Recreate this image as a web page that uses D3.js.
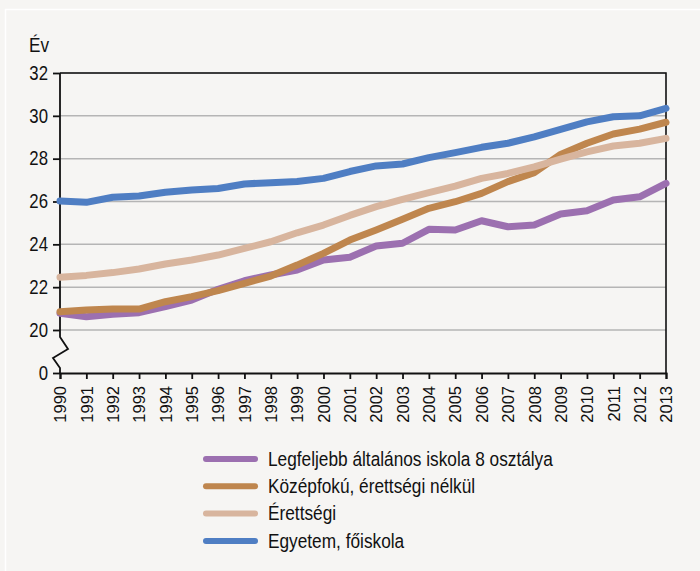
<!DOCTYPE html>
<html>
<head>
<meta charset="utf-8">
<script src="https://cdn.jsdelivr.net/npm/d3@7"></script>
<style>
  html, body { margin: 0; padding: 0; background: #f6f5f3; }
  svg { display: block; font-family: "Liberation Sans", Arial, sans-serif; }
</style>
</head>
<body>
<svg id="chart" width="700" height="571"></svg>
<script>
const years = d3.range(1990, 2014);
const yTickValues = [0, 20, 22, 24, 26, 28, 30, 32];
const seriesNames = [
  "Legfeljebb általános iskola 8 osztálya",
  "Középfokú, érettségi nélkül",
  "Érettségi",
  "Egyetem, főiskola"
];
const seriesColors = ["#9c70b0", "#bf864e", "#d8b59e", "#4f7ec3"];
const elementary = [20.78, 20.62, 20.73, 20.81, 21.09, 21.4, 21.9, 22.3, 22.57, 22.8, 23.27, 23.4,
                    23.92, 24.05, 24.7, 24.67, 25.1, 24.82, 24.9, 25.42, 25.57, 26.07, 26.22, 26.85];
const vocational = [20.85, 20.93, 20.98, 20.98, 21.32, 21.56, 21.84, 22.18, 22.52, 23.03, 23.58, 24.2,
                    24.67, 25.17, 25.68, 25.99, 26.38, 26.93, 27.35, 28.2, 28.72, 29.15, 29.38, 29.7];
const secondary = [22.46, 22.55, 22.68, 22.85, 23.08, 23.27, 23.5, 23.81, 24.12, 24.54, 24.9, 25.35,
                   25.76, 26.1, 26.41, 26.72, 27.08, 27.31, 27.62, 27.98, 28.32, 28.59, 28.72, 28.95];
const university = [26.02, 25.96, 26.2, 26.26, 26.43, 26.54, 26.61, 26.82, 26.88, 26.93, 27.08, 27.4,
                    27.66, 27.75, 28.05, 28.28, 28.53, 28.72, 29.02, 29.37, 29.72, 29.96, 30.0, 30.35];
const seriesValues = [elementary, vocational, secondary, university];

(function () {
const svg = d3.select("#chart");
const pLeft = 60, pRight = 666, pTop = 73, pBottom = 373, breakY = 330;
const FONT = "'Liberation Sans', Arial, sans-serif";

// outer white frame
svg.append("rect").attr("x", 5.5).attr("y", 9.5).attr("width", 710).attr("height", 600)
  .attr("fill", "none").attr("stroke", "#ffffff").attr("stroke-width", 1.5);

const x = d3.scaleLinear().domain([1990, 2013]).range([pLeft, pRight]);
const y = d3.scaleLinear().domain([0, 20, 32]).range([pBottom, breakY, pTop]);

// grid lines
svg.append("g").selectAll("line").data(yTickValues.filter(v => v >= 20))
  .join("line")
  .attr("x1", pLeft).attr("x2", pRight)
  .attr("y1", d => y(d)).attr("y2", d => y(d))
  .attr("stroke", "#b5b5b5").attr("stroke-width", 1.5);

// frame top & right
svg.append("path")
  .attr("d", `M${pLeft},${pTop}H${pRight}V${pBottom}`)
  .attr("fill", "none").attr("stroke", "#111").attr("stroke-width", 1.6);

// y axis
const yAxis = svg.append("g").attr("transform", `translate(${pLeft},0)`)
  .call(d3.axisLeft(y).tickValues(yTickValues).tickSize(7).tickPadding(5).tickFormat(d3.format("d")));
yAxis.select(".domain").remove();
yAxis.selectAll(".tick line").attr("stroke", "#111").attr("stroke-width", 1.8);
yAxis.selectAll(".tick text")
  .attr("font-size", "19.5px").attr("fill", "#111").attr("font-family", FONT)
  .attr("x", 0).attr("transform", "translate(-12,0) scale(0.86,1)");
// axis line with break
svg.append("path")
  .attr("d", `M${pLeft},${pTop}V${y(20) + 7}L${pLeft + 8},${y(20) + 19}L${pLeft - 7},${y(20) + 28}L${pLeft},${y(20) + 38}V${pBottom}`)
  .attr("fill", "none").attr("stroke", "#111").attr("stroke-width", 1.8).attr("stroke-linejoin", "miter");

// x axis
const xAxis = svg.append("g").attr("transform", `translate(0,${pBottom})`)
  .call(d3.axisBottom(x).tickValues(years).tickSize(6).tickFormat(d3.format("d")));
xAxis.select(".domain").attr("stroke", "#111").attr("stroke-width", 2);
xAxis.selectAll(".tick line").attr("stroke", "#111").attr("stroke-width", 1.8);
xAxis.selectAll(".tick text")
  .attr("font-size", "16.5px").attr("fill", "#111").attr("font-family", FONT)
  .attr("transform", "rotate(-90)")
  .attr("text-anchor", "end")
  .attr("x", -13).attr("y", 0).attr("dy", "0.35em");

// "Év" label
svg.append("text").attr("transform", "translate(29,52) scale(0.88,1)")
  .attr("font-size", "19.5px").attr("fill", "#111").text("Év");

// lines
const line = d3.line().x((d, i) => x(years[i])).y(d => y(d));
svg.append("g").selectAll("path").data(seriesValues)
  .join("path")
  .attr("d", d => line(d))
  .attr("fill", "none")
  .attr("stroke", (d, i) => seriesColors[i])
  .attr("stroke-width", 7)
  .attr("stroke-linejoin", "round")
  .attr("stroke-linecap", "round");

// legend
const lg = svg.append("g");
const rows = lg.selectAll("g").data(seriesNames).join("g")
  .attr("transform", (d, i) => `translate(0,${459 + i * 27.3})`);
rows.append("line").attr("x1", 206).attr("x2", 255).attr("y1", 0).attr("y2", 0)
  .attr("stroke", (d, i) => seriesColors[i]).attr("stroke-width", 6).attr("stroke-linecap", "round");
rows.append("text").attr("transform", "translate(268,0) scale(0.885,1)").attr("dy", "0.35em")
  .attr("font-size", "19.5px").attr("fill", "#111").text(d => d);
})();
</script>
</body>
</html>
